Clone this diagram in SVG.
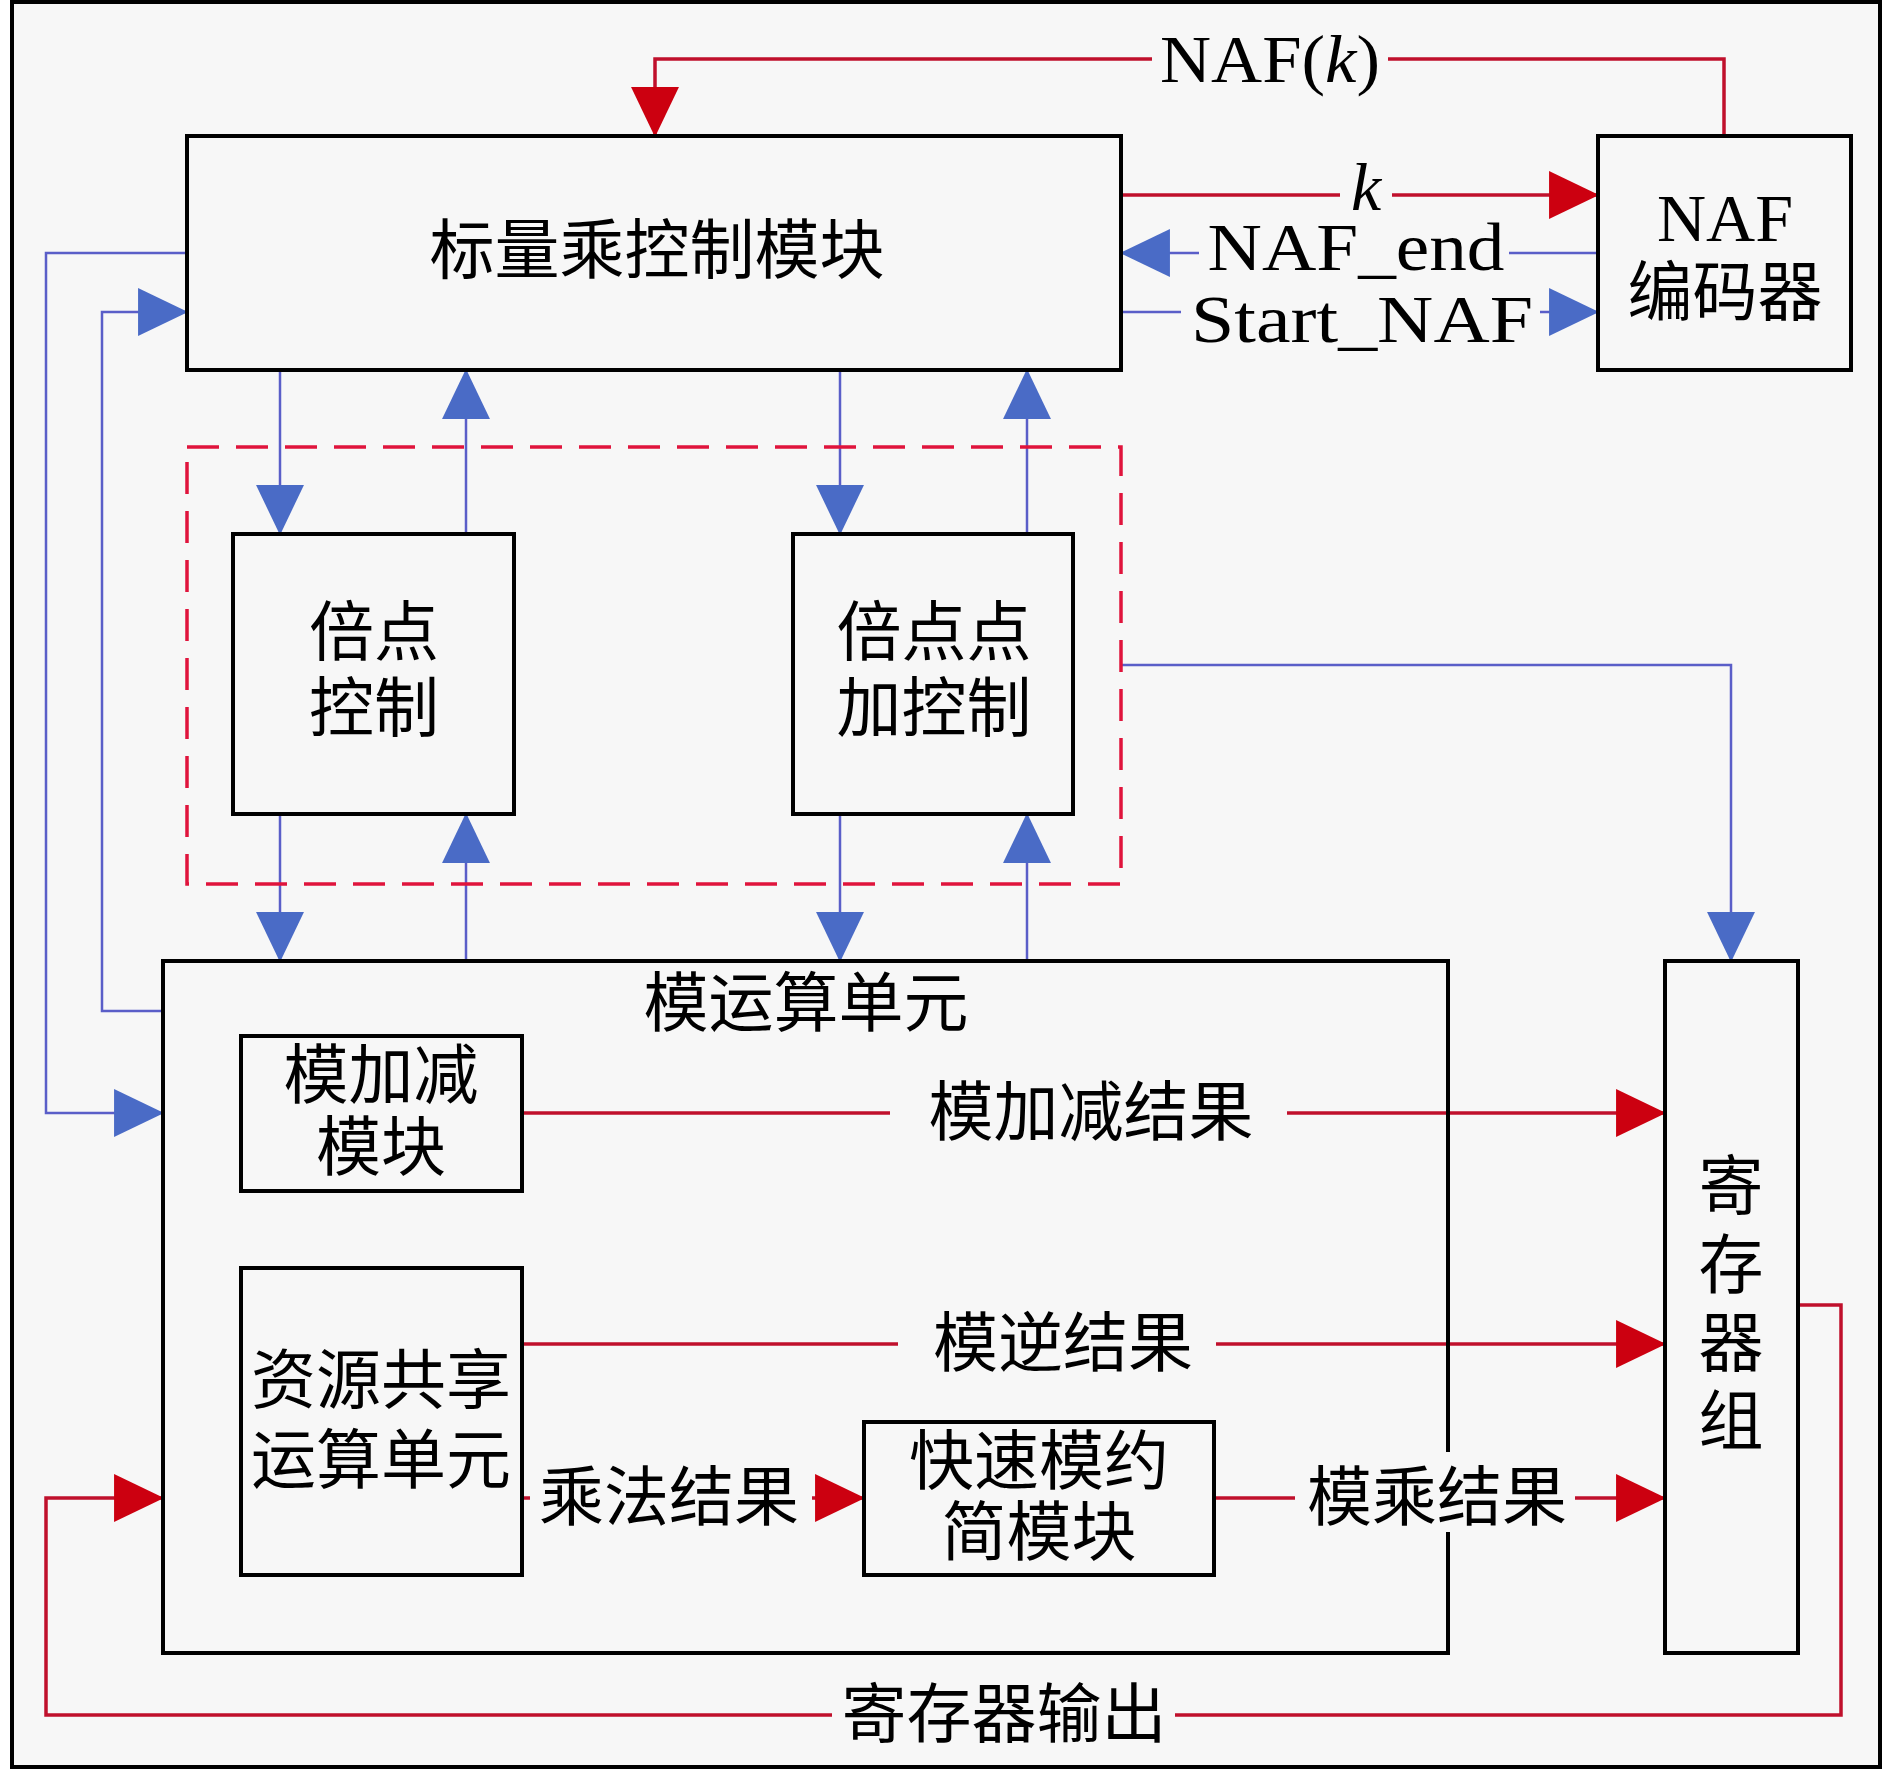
<svg xmlns="http://www.w3.org/2000/svg" width="1890" height="1772" viewBox="0 0 1890 1772">
<defs>
<marker id="ar" markerUnits="userSpaceOnUse" markerWidth="50" markerHeight="50" viewBox="0 0 48 46" refX="47" refY="23" orient="auto"><path d="M0,0 L48,23 L0,46 z" fill="#cc0010"/></marker>
<marker id="ab" markerUnits="userSpaceOnUse" markerWidth="50" markerHeight="50" viewBox="0 0 48 46" refX="47" refY="23" orient="auto"><path d="M0,0 L48,23 L0,46 z" fill="#4a6bc6"/></marker>
<style>
.box{fill:none;stroke:#000;stroke-width:4}
.r{fill:none;stroke:#c0102c;stroke-width:3.5;marker-end:url(#ar)}
.b{fill:none;stroke:#5a5ec8;stroke-width:2.5;marker-end:url(#ab)}
.cn{font-family:"Liberation Serif","Noto Sans CJK SC",serif;font-size:65px;fill:#000;text-anchor:middle;dominant-baseline:central}
.lt{font-family:"Liberation Serif",serif;font-size:68px;fill:#000;text-anchor:middle}
.bg{fill:#f7f7f7}
</style>
</defs>
<rect x="0" y="0" width="1890" height="1772" fill="#ffffff"/>
<rect x="12" y="2" width="1868" height="1765" fill="#f7f7f7" stroke="#000" stroke-width="4"/>

<g id="connectors">
<path class="r" d="M1724,136 V59 H655 V136"/>
<path class="r" d="M1121,195 H1598"/>
<path class="b" d="M1598,253 H1121"/>
<path class="b" d="M1121,312 H1598"/>
<path class="b" d="M187,253 H46 V1113 H163"/>
<path class="b" d="M163,1011 H102 V312 H187"/>
<path class="b" d="M280,370 V534"/>
<path class="b" d="M466,534 V370"/>
<path class="b" d="M840,370 V534"/>
<path class="b" d="M1027,534 V370"/>
<path class="b" d="M280,814 V961"/>
<path class="b" d="M466,961 V814"/>
<path class="b" d="M840,814 V961"/>
<path class="b" d="M1027,961 V814"/>
<path class="b" d="M1121,665 H1731 V961"/>
<path class="r" d="M522,1113 H1665"/>
<path class="r" d="M522,1344 H1665"/>
<path class="r" d="M522,1498 H864"/>
<path class="r" d="M1214,1498 H1665"/>
<path class="r" d="M1798,1305 H1841 V1715 H46 V1498 H163"/>
</g>

<g id="group-dashed">
<rect x="187" y="447" width="934" height="437" fill="none" stroke="#e0143c" stroke-width="3.5" stroke-dasharray="32 17"/>
</g>

<g id="node-scalar">
<rect class="box" x="187" y="136" width="934" height="234"/>
<text class="cn" x="657" y="251" font-size="66">标量乘控制模块</text>
</g>
<g id="node-naf">
<rect class="box" x="1598" y="136" width="253" height="234"/>
<text class="lt" x="1725" y="241">NAF</text>
<text class="cn" x="1725" y="293">编码器</text>
</g>
<g id="node-double">
<rect class="box" x="233" y="534" width="281" height="280"/>
<text class="cn" x="374" y="633">倍点</text>
<text class="cn" x="374" y="709">控制</text>
</g>
<g id="node-dadd">
<rect class="box" x="793" y="534" width="280" height="280"/>
<text class="cn" x="934" y="633">倍点点</text>
<text class="cn" x="934" y="709">加控制</text>
</g>
<g id="node-modunit">
<rect class="box" x="163" y="961" width="1285" height="692"/>
<text class="cn" x="806" y="1004">模运算单元</text>
</g>
<g id="node-modaddsub">
<rect class="box" x="241" y="1036" width="281" height="155"/>
<text class="cn" x="381" y="1076">模加减</text>
<text class="cn" x="381" y="1148">模块</text>
</g>
<g id="node-shared">
<rect class="box" x="241" y="1268" width="281" height="307"/>
<text class="cn" x="381" y="1381" font-size="62">资源共享</text>
<text class="cn" x="381" y="1461" font-size="62">运算单元</text>
</g>
<g id="node-fastred">
<rect class="box" x="864" y="1422" width="350" height="153"/>
<text class="cn" x="1039" y="1462">快速模约</text>
<text class="cn" x="1039" y="1533">简模块</text>
</g>
<g id="node-regs">
<rect class="box" x="1665" y="961" width="133" height="692"/>
<text class="cn" x="1731" y="1187">寄</text>
<text class="cn" x="1731" y="1266">存</text>
<text class="cn" x="1731" y="1344">器</text>
<text class="cn" x="1731" y="1422">组</text>
</g>

<g id="labels">
<rect class="bg" x="1152" y="25" width="236" height="70"/>
<text class="lt" x="1270" y="82" textLength="220" lengthAdjust="spacingAndGlyphs">NAF(<tspan font-style="italic">k</tspan>)</text>
<rect class="bg" x="1340" y="170" width="52" height="46"/>
<text class="lt" x="1366" y="210" font-style="italic">k</text>
<rect class="bg" x="1199" y="224" width="310" height="56"/>
<text class="lt" x="1356" y="270" textLength="297" lengthAdjust="spacingAndGlyphs">NAF_end</text>
<rect class="bg" x="1181" y="290" width="359" height="60"/>
<text class="lt" x="1362" y="342" textLength="342" lengthAdjust="spacingAndGlyphs">Start_NAF</text>
<rect class="bg" x="890" y="1078" width="397" height="70"/>
<text class="cn" x="1091" y="1113">模加减结果</text>
<rect class="bg" x="898" y="1309" width="318" height="70"/>
<text class="cn" x="1063" y="1344">模逆结果</text>
<rect class="bg" x="530" y="1463" width="282" height="70"/>
<text class="cn" x="669" y="1498">乘法结果</text>
<rect class="bg" x="1295" y="1452" width="280" height="80"/>
<text class="cn" x="1437" y="1498">模乘结果</text>
<rect class="bg" x="832" y="1680" width="343" height="70"/>
<text class="cn" x="1004" y="1715">寄存器输出</text>
</g>
</svg>
